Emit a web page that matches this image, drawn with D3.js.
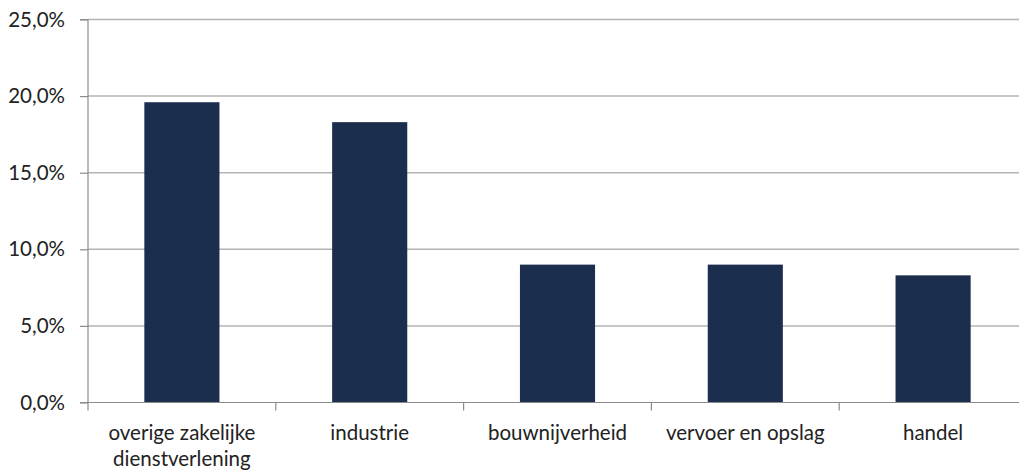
<!DOCTYPE html>
<html><head><meta charset="utf-8">
<script src="https://cdn.jsdelivr.net/npm/d3@7/dist/d3.min.js"></script>
<style>
html,body{margin:0;padding:0;background:#fff;overflow:hidden;}
text{font-family:Lato,"Open Sans",sans-serif;fill:#222;}
</style></head>
<body>
<svg id="chart" width="1019" height="473"></svg>
<script>
const categories = [["overige zakelijke","dienstverlening"],["industrie"],["bouwnijverheid"],["vervoer en opslag"],["handel"]];
const values = [19.6, 18.3, 9.0, 9.0, 8.3];
const yTicks = [0, 5, 10, 15, 20, 25];

const svg = d3.select("#chart");
const mLeft = 88, mRight = 1027, mTop = 19.5, mBottom = 402.5;
const fontSize = 20.5;

const x = d3.scaleBand().domain(d3.range(categories.length)).range([mLeft, mRight]).paddingInner(0.6).paddingOuter(0.3);
const y = d3.scaleLinear().domain([0, 25]).range([mBottom, mTop]);

// gridlines
svg.append("g").selectAll("line").data(yTicks.filter(d => d > 0)).join("line")
  .attr("x1", mLeft).attr("x2", 1019)
  .attr("y1", d => y(d)).attr("y2", d => y(d))
  .attr("stroke", "#b4b4b4").attr("stroke-width", 1.5);

// bars
svg.append("g").selectAll("rect").data(values).join("rect")
  .attr("x", (d, i) => x(i)).attr("width", x.bandwidth())
  .attr("y", d => y(d)).attr("height", d => mBottom - y(d))
  .attr("fill", "#1c2e4e");

// y axis
const yAxis = d3.axisLeft(y).tickValues(yTicks).tickSize(8).tickPadding(15)
  .tickFormat(d => d.toFixed(1).replace(".", ",") + "%");
const gy = svg.append("g").attr("transform", `translate(${mLeft},0)`).call(yAxis);
gy.select(".domain").attr("stroke", "#8c8c8c").attr("stroke-width", 1.2).attr("d", `M-8,${mBottom}H0V${mTop}H-8`);
gy.selectAll(".tick line").attr("stroke", "#8c8c8c").attr("stroke-width", 1.2);
gy.selectAll(".tick text").attr("font-size", fontSize).attr("fill", "#222").style("font-family", "Lato, sans-serif");

// x axis baseline and ticks
const gx = svg.append("g");
gx.append("line").attr("x1", mLeft).attr("x2", 1019).attr("y1", mBottom).attr("y2", mBottom)
  .attr("stroke", "#8c8c8c").attr("stroke-width", 1.2);
const step = x.step();
gx.selectAll("line.tk").data(d3.range(categories.length + 1)).join("line").attr("class", "tk")
  .attr("x1", i => mLeft + i * step).attr("x2", i => mLeft + i * step)
  .attr("y1", mBottom).attr("y2", mBottom + 8)
  .attr("stroke", "#8c8c8c").attr("stroke-width", 1.2);

const labels = gx.selectAll("text").data(categories).join("text")
  .attr("text-anchor", "middle")
  .attr("font-size", fontSize)
  .attr("x", (d, i) => x(i) + x.bandwidth() / 2)
  .attr("y", 440);
labels.selectAll("tspan").data(d => d).join("tspan")
  .attr("x", function() { return this.parentNode.getAttribute("x"); })
  .attr("dy", (d, j) => j === 0 ? 0 : 26)
  .text(d => d);
</script>
</body></html>
